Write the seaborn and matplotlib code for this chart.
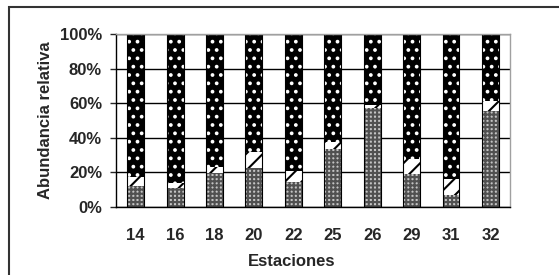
import numpy as np
import pandas as pd
import seaborn as sns
import matplotlib.pyplot as plt
from matplotlib.patches import Rectangle

# datos (% por estacion)
estaciones = ["14", "16", "18", "20", "22", "25", "26", "29", "31", "32"]
grupo_a = [12.3, 10.8, 19.8, 22.4, 14.6, 33.3, 57.0, 19.0, 7.0, 55.5]
grupo_b = [4.9, 3.2, 3.2, 9.6, 6.4, 4.1, 2.0, 9.0, 9.4, 5.9]
grupo_c = [100 - a - b for a, b in zip(grupo_a, grupo_b)]

sns.set_style("white")
plt.rcParams['font.family'] = ['Liberation Sans', 'DejaVu Sans']
plt.rcParams['font.weight'] = 'bold'
plt.rcParams['hatch.linewidth'] = 1.5

df = pd.DataFrame({"Estacion": estaciones, "a": grupo_a, "b": grupo_b, "c": grupo_c})
df["ab"] = df["a"] + df["b"]
df["abc"] = df["ab"] + df["c"]

fig = plt.figure(figsize=(5.59, 2.75), dpi=100)
ax = fig.add_axes([0.2075, 0.247, 0.705, 0.629])

# capas apiladas: primero la total, luego las parciales encima
capas = [("abc", "black", "..", "white"),
         ("ab", "white", "//", "black"),
         ("a", "#c4c4c4", "++++", "#505050")]
for col, fc, hatch, hc in capas:
    sns.barplot(data=df, x="Estacion", y=col, color=fc, width=0.43,
                saturation=1, ax=ax)
    for p in ax.containers[-1]:
        p.set_facecolor(fc)
        p.set_edgecolor(hc)
        p.set_hatch(hatch)
        p.set_linewidth(0)

# contorno negro de las barras
sns.barplot(data=df, x="Estacion", y="abc", width=0.43, fill=False,
            color="black", linewidth=0.8, ax=ax)

fs = 12
ax.set_ylim(0, 100)
ax.set_xlim(-0.5, len(estaciones) - 0.5)
ax.set_yticks(np.arange(0, 101, 20))
ax.set_yticklabels([f"{v}%" for v in range(0, 101, 20)])
ax.yaxis.grid(True, color="black", lw=1)
ax.set_axisbelow(True)

ax.tick_params(axis="x", which="major", length=0, pad=15, labelsize=fs)
ax.set_xticks(np.arange(-0.5, len(estaciones)), minor=True)
ax.tick_params(axis="x", which="minor", length=4, width=1, direction="out", color="black")
ax.tick_params(axis="y", length=4, width=1, direction="out", pad=6, labelsize=fs, left=True)

for s in ["left", "bottom"]:
    ax.spines[s].set_color("black")
    ax.spines[s].set_linewidth(1)
for s in ["top", "right"]:
    ax.spines[s].set_color("#a0a0a0")
    ax.spines[s].set_linewidth(1)

ax.set_xlabel("Estaciones", fontsize=fs, fontweight="bold")
ax.set_ylabel("Abundancia relativa", fontsize=fs, fontweight="bold")
ax.xaxis.set_label_coords(0.445, -0.27)
ax.yaxis.set_label_coords(-0.16, 0.5)

# marco exterior
fig.patches.append(Rectangle((9 / 559, -0.05), 1.1, 1 - 7 / 275 + 0.05,
                             transform=fig.transFigure, fill=False,
                             edgecolor="#333333", lw=1.5))

fig.savefig("out.png", dpi=100)
